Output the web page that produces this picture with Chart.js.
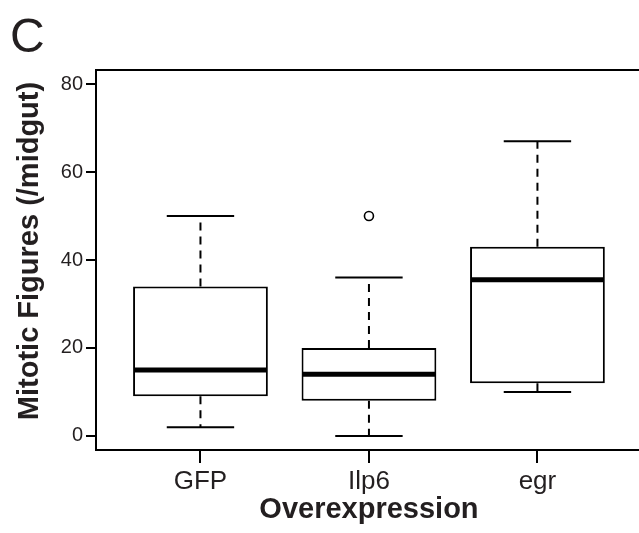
<!DOCTYPE html>
<html>
<head>
<meta charset="utf-8">
<script src="https://cdn.jsdelivr.net/npm/chart.js@4"></script>
<style>
  html, body { margin: 0; padding: 0; background: #fff; overflow: hidden; }
  #wrap { width: 639px; height: 533px; overflow: hidden; }
</style>
</head>
<body>
<div id="wrap"><canvas id="boxChart" width="648" height="533"></canvas></div>
<script>
const groups = ['GFP', 'Ilp6', 'egr'];
const lowWhisker = [2, 0, 10];
const q1 = [9, 8, 12];
const median = [15, 14, 35.5];
const q3 = [34, 20, 43];
const highWhisker = [50, 36, 67];
const outliers = [[], [50], []];
const yTicks = [0, 20, 40, 60, 80];

const INK = '#231f20';
const FONT = "'Liberation Sans', Arial, sans-serif";

// whiskers, caps, medians and the frame - R boxplot look
const boxExtras = {
    id: 'boxExtras',
    afterDatasetsDraw(chart) {
        const ctx = chart.ctx;
        const xs = chart.scales.x, ys = chart.scales.y;
        const unit = xs.getPixelForValue(2) - xs.getPixelForValue(1);
        ctx.save();
        ctx.strokeStyle = '#000';
        groups.forEach((g, i) => {
            const cx = xs.getPixelForValue(i + 1);
            // dashed whiskers
            ctx.lineWidth = 2;
            ctx.setLineDash([8, 6]);
            ctx.beginPath();
            ctx.moveTo(cx, ys.getPixelForValue(q3[i]));
            ctx.lineTo(cx, ys.getPixelForValue(highWhisker[i]));
            ctx.moveTo(cx, ys.getPixelForValue(q1[i]));
            ctx.lineTo(cx, ys.getPixelForValue(lowWhisker[i]));
            ctx.stroke();
            ctx.setLineDash([]);
            // caps
            const hw = unit * 0.2;
            ctx.beginPath();
            [highWhisker[i], lowWhisker[i]].forEach(v => {
                const py = ys.getPixelForValue(v);
                ctx.moveTo(cx - hw, py);
                ctx.lineTo(cx + hw, py);
            });
            ctx.stroke();
            // median
            ctx.lineWidth = 5;
            ctx.beginPath();
            const my = ys.getPixelForValue(median[i]);
            ctx.moveTo(cx - unit * 0.4 + 1, my);
            ctx.lineTo(cx + unit * 0.4 - 1, my);
            ctx.stroke();
        });
        const a = chart.chartArea;
        ctx.lineWidth = 2;
        ctx.strokeRect(a.left, a.top, a.right - a.left, a.bottom - a.top);

        ctx.fillStyle = INK;
        // y axis title
        ctx.save();
        ctx.translate(30, 251);
        ctx.rotate(-Math.PI / 2);
        ctx.font = 'bold 29px ' + FONT;
        ctx.textAlign = 'center';
        ctx.textBaseline = 'middle';
        ctx.fillText('Mitotic Figures (/midgut)', 0, 0);
        ctx.restore();
        // panel letter
        ctx.font = '48px ' + FONT;
        ctx.textBaseline = 'alphabetic';
        ctx.fillText('C', 10, 52);
        ctx.restore();
    }
};

const boxData = groups.map((g, i) => ({ x: i + 1, y: [q1[i], q3[i]] }));
const outlierData = [];
outliers.forEach((list, i) => list.forEach(v => outlierData.push({ x: i + 1, y: v })));

new Chart(document.getElementById('boxChart'), {
    type: 'bar',
    data: {
        datasets: [
            {
                type: 'bar',
                data: boxData,
                backgroundColor: '#fff',
                borderColor: '#000',
                borderWidth: 2,
                borderSkipped: false,
                barPercentage: 1,
                categoryPercentage: 0.8
            },
            {
                type: 'scatter',
                data: outlierData,
                pointRadius: 4.5,
                pointBorderWidth: 1.6,
                pointBackgroundColor: '#fff',
                pointBorderColor: '#000'
            }
        ]
    },
    options: {
        responsive: false,
        animation: false,
        layout: { padding: { top: 70, right: 4, left: 0, bottom: 0 } },
        plugins: { legend: { display: false }, tooltip: { enabled: false } },
        scales: {
            x: {
                type: 'linear',
                min: 0.38, max: 3.62,
                offset: false,
                afterBuildTicks: s => { s.ticks = groups.map((g, i) => ({ value: i + 1 })); },
                afterFit: s => { s.height = 83; },
                ticks: {
                    color: INK, padding: 3,
                    font: { family: FONT, size: 26 },
                    callback: v => groups[v - 1]
                },
                grid: { display: true, offset: false, drawOnChartArea: false, drawTicks: true, tickLength: 13, color: '#000', lineWidth: 2 },
                border: { display: true, color: '#000', width: 2 },
                title: {
                    display: true, text: 'Overexpression', color: INK,
                    font: { family: FONT, size: 29, weight: 'bold' },
                    padding: { top: 0, bottom: 6 }
                }
            },
            y: {
                min: -3.2, max: 83.2,
                afterBuildTicks: s => { s.ticks = yTicks.map(v => ({ value: v })); },
                afterFit: s => { s.width = 96; },
                ticks: {
                    color: INK, padding: 3,
                    font: { family: FONT, size: 20 }
                },
                grid: { display: true, drawOnChartArea: false, drawTicks: true, tickLength: 10, color: '#000', lineWidth: 2 },
                border: { display: true, color: '#000', width: 2 }
            }
        }
    },
    plugins: [boxExtras]
});
</script>
</body>
</html>
